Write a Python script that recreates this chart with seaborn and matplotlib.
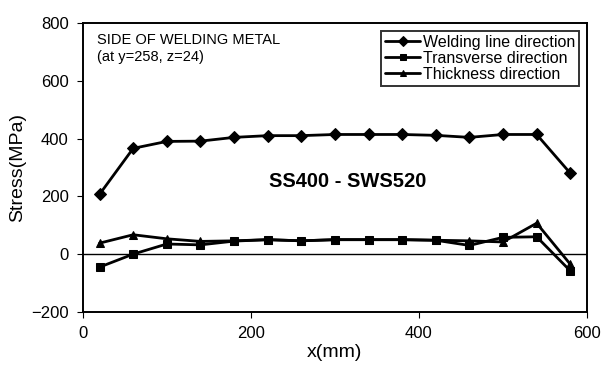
import matplotlib
matplotlib.use('Agg')
import matplotlib.pyplot as plt
import pandas as pd
import seaborn as sns

# Data
x_mm = [20, 60, 100, 140, 180, 220, 260, 300, 340, 380, 420, 460, 500, 540, 580]
welding_line = [207, 366, 390, 391, 404, 410, 410, 414, 414, 414, 411, 404, 414, 414, 280]
transverse = [-45, 0, 35, 32, 45, 50, 46, 50, 50, 50, 48, 30, 58, 60, -58]
thickness = [38, 67, 53, 44, 46, 50, 46, 50, 50, 50, 48, 46, 42, 107, -35]
series_names = ['Welding line direction', 'Transverse direction', 'Thickness direction']

df = pd.DataFrame({'x': x_mm * 3,
                   'stress': welding_line + transverse + thickness,
                   'series': [s for s in series_names for _ in x_mm]})

sns.set_style('ticks', {'text.color': 'black', 'axes.labelcolor': 'black',
                        'xtick.color': 'black', 'ytick.color': 'black'})
plt.rcParams['font.family'] = ['Liberation Sans', 'DejaVu Sans']

fig = plt.figure(figsize=(6.04, 3.70), dpi=100)
ax = fig.add_axes([0.137, 0.157, 0.835, 0.781])

sns.lineplot(data=df, x='x', y='stress', hue='series', style='series',
             palette=['black'] * 3, markers=['D', 's', '^'], dashes=False,
             markersize=6, linewidth=2, markeredgecolor='black', ax=ax)

ax.axhline(0, color='black', linewidth=1)
ax.set_xlim(0, 600)
ax.set_ylim(-200, 800)
ax.set_xticks([0, 200, 400, 600])
ax.set_yticks([-200, 0, 200, 400, 600, 800])
ax.set_yticklabels(['\u2212200', '0', '200', '400', '600', '800'])
ax.tick_params(labelsize=12, direction='out', length=4, color='black', pad=6)
ax.set_xlabel('x(mm)', fontsize=14, labelpad=2)
ax.set_ylabel('Stress(MPa)', fontsize=14, labelpad=4)
for s in ax.spines.values():
    s.set_linewidth(1.4)
    s.set_color('black')

ax.text(17, 765, 'SIDE OF WELDING METAL\n(at y=258, z=24)', fontsize=10.5,
        va='top', ha='left', linespacing=1.3)
ax.text(315, 250, 'SS400 - SWS520', fontsize=14.5, fontweight='bold',
        ha='center', va='center')

leg = ax.legend(loc='upper right', fontsize=11.5, frameon=True, fancybox=False,
                handlelength=2.2, handletextpad=0.15, borderpad=0.25,
                labelspacing=0.05, borderaxespad=0.5, markerscale=0.8)
leg.get_frame().set_edgecolor('black')
leg.get_frame().set_linewidth(1.4)

fig.savefig('out.png', dpi=100)
